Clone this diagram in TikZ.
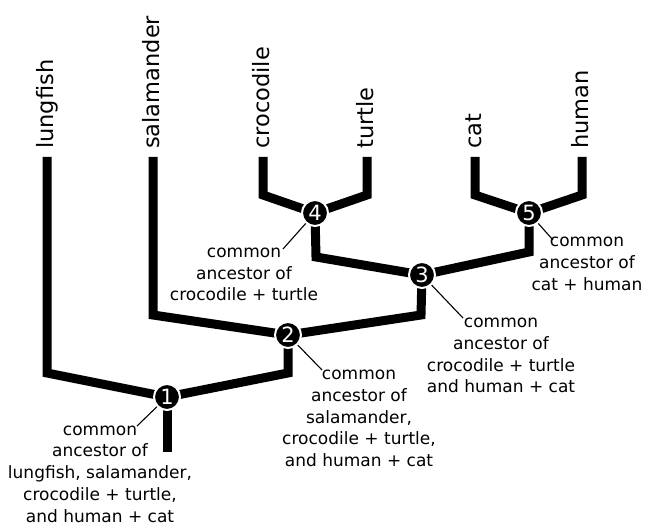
\documentclass[tikz,border=0pt]{standalone}
\usepackage{fontspec}
\setmainfont{DejaVu Sans}
\begin{document}
\begin{tikzpicture}[x=1pt,y=-1pt,
  branch/.style={line width=9pt, line join=miter, miter limit=10},
  anc/.style={circle, fill=black, draw=white, line width=2pt, minimum size=26pt, inner sep=0pt, text=white, font=\fontsize{21}{21}\selectfont},
  leaf/.style={rotate=90, anchor=base west, inner sep=0pt, font=\fontsize{22.5}{27}\selectfont},
  note/.style={align=center, inner sep=0pt, font=\fontsize{17}{21.8}\selectfont},
  leader/.style={line width=1.1pt}]
\useasboundingbox (0,0) rectangle (646,526);

% leaf tops
\coordinate (tlf) at (47,157);
\coordinate (tsa) at (153,157);
\coordinate (tcr) at (263,157);
\coordinate (ttu) at (367,157);
\coordinate (tca) at (475,157);
\coordinate (thu) at (582,157);
% corners
\coordinate (klf) at (47,373);
\coordinate (ksa) at (153,315);
\coordinate (kcr) at (263,195);
\coordinate (ktu) at (367,195);
\coordinate (kca) at (475,195);
\coordinate (khu) at (582,195);
\coordinate (k4) at (316,257);
\coordinate (k5) at (529,252);
\coordinate (k3) at (421,315);
\coordinate (k2) at (288,373);
\coordinate (root) at (167,452);

% leaf labels
\node[leaf] (lungfish) at (53,149) {lungfish};
\node[leaf] (salamander) at (159,149) {salamander};
\node[leaf] (crocodile) at (269,149) {crocodile};
\node[leaf] (turtle) at (373,149) {turtle};
\node[leaf] (cat) at (481,149) {cat};
\node[leaf] (human) at (588,149) {human};

% ancestor positions
\coordinate (p1) at (167,397);
\coordinate (p2) at (288,335);
\coordinate (p3) at (422,275);
\coordinate (p4) at (315,213);
\coordinate (p5) at (529,213);

% branches
\draw[branch] (tcr) -- (kcr) -- (p4);
\draw[branch] (ttu) -- (ktu) -- (p4);
\draw[branch] (tca) -- (kca) -- (p5);
\draw[branch] (thu) -- (khu) -- (p5);
\draw[branch] (p4) -- (k4) -- (p3);
\draw[branch] (p5) -- (k5) -- (p3);
\draw[branch] (p3) -- (k3) -- (p2);
\draw[branch] (tsa) -- (ksa) -- (p2);
\draw[branch] (p2) -- (k2) -- (p1);
\draw[branch] (tlf) -- (klf) -- (p1);
\draw[branch] (p1) -- (root);

% ancestor nodes
\node[anc] (n1) at (p1) {1};
\node[anc] (n2) at (p2) {2};
\node[anc] (n3) at (p3) {3};
\node[anc] (n4) at (p4) {4};
\node[anc] (n5) at (p5) {5};

% notes
\node[note] (l1) at (100,474) {common\\ancestor of\\lungfish, salamander,\\crocodile + turtle,\\and human + cat};
\node[note] (l2) at (359,418.5) {common\\ancestor of\\salamander,\\crocodile + turtle,\\and human + cat};
\node[note] (l3) at (501,355.5) {common\\ancestor of\\crocodile + turtle\\and human + cat};
\node[note] (l4) at (244,274.5) {common\\ancestor of\\crocodile + turtle};
\node[note] (l5) at (587,264) {common\\ancestor of\\cat + human};

% leaders
\coordinate (e1) at (137,426);
\coordinate (e2) at (322,370);
\coordinate (e3) at (463,318);
\coordinate (e4) at (283,249);
\coordinate (e5) at (553,240);
\draw[leader] (n1) -- (e1);
\draw[leader] (n2) -- (e2);
\draw[leader] (n3) -- (e3);
\draw[leader] (n4) -- (e4);
\draw[leader] (n5) -- (e5);
\end{tikzpicture}
\end{document}
